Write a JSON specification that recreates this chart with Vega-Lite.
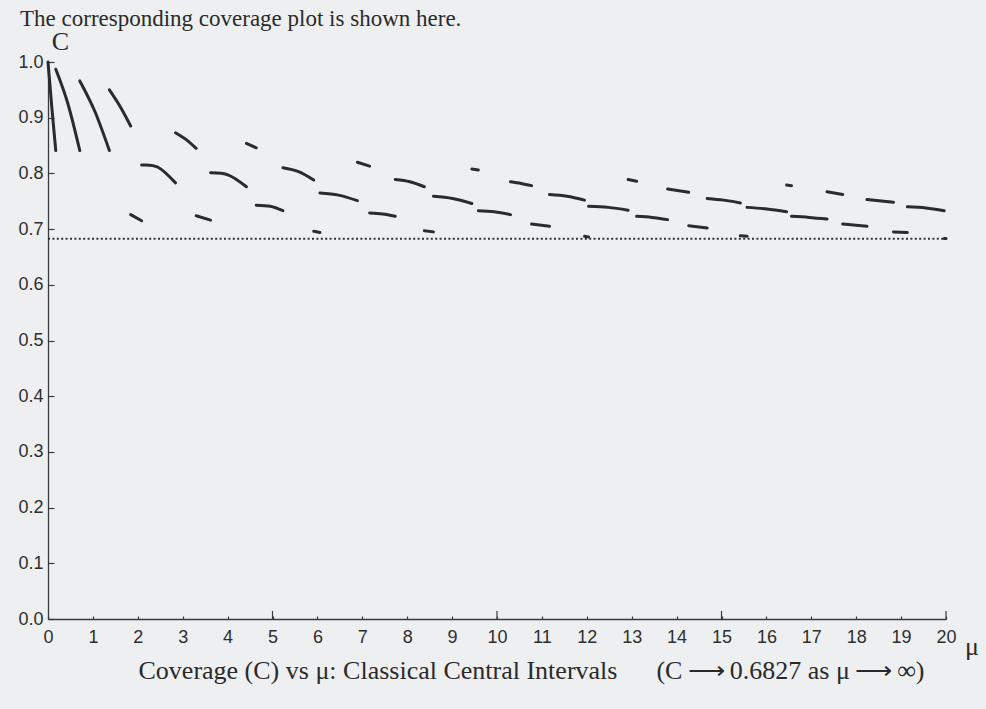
{
  "$schema": "https://vega.github.io/schema/vega-lite/v6.json",
  "width": 898,
  "height": 557,
  "autosize": {"type": "none"},
  "padding": {"left": 48, "top": 62, "right": 40, "bottom": 90},
  "background": "#eeeff0",
  "config": {"view": {"stroke": null}, "axis": {"grid": false}},
  "title": {
    "text": "The corresponding coverage plot is shown here.",
    "anchor": "start",
    "frame": "group",
    "orient": "top",
    "font": "Liberation Serif",
    "fontSize": 23,
    "fontWeight": "normal",
    "color": "#2a2a2a",
    "baseline": "alphabetic",
    "offset": 0,
    "dx": -28,
    "dy": 21
  },
  "datasets": {
    "coverage": [
      {"segment": 1, "mu": 0, "coverage": 1.0},
      {"segment": 1, "mu": 0.09, "coverage": 0.914},
      {"segment": 1, "mu": 0.173, "coverage": 0.841},
      {"segment": 2, "mu": 0.173, "coverage": 0.987},
      {"segment": 2, "mu": 0.44, "coverage": 0.926},
      {"segment": 2, "mu": 0.708, "coverage": 0.841},
      {"segment": 3, "mu": 0.708, "coverage": 0.966},
      {"segment": 3, "mu": 1.04, "coverage": 0.912},
      {"segment": 3, "mu": 1.367, "coverage": 0.841},
      {"segment": 4, "mu": 1.367, "coverage": 0.95},
      {"segment": 4, "mu": 1.6, "coverage": 0.921},
      {"segment": 4, "mu": 1.841, "coverage": 0.885},
      {"segment": 5, "mu": 1.841, "coverage": 0.726},
      {"segment": 5, "mu": 2.086, "coverage": 0.715},
      {"segment": 6, "mu": 2.086, "coverage": 0.815},
      {"segment": 6, "mu": 2.45, "coverage": 0.811},
      {"segment": 6, "mu": 2.84, "coverage": 0.783},
      {"segment": 7, "mu": 2.84, "coverage": 0.873},
      {"segment": 7, "mu": 3.07, "coverage": 0.861},
      {"segment": 7, "mu": 3.3, "coverage": 0.845},
      {"segment": 8, "mu": 3.3, "coverage": 0.724},
      {"segment": 8, "mu": 3.62, "coverage": 0.716},
      {"segment": 9, "mu": 3.62, "coverage": 0.801},
      {"segment": 9, "mu": 4.02, "coverage": 0.797},
      {"segment": 9, "mu": 4.419, "coverage": 0.776},
      {"segment": 10, "mu": 4.419, "coverage": 0.854},
      {"segment": 10, "mu": 4.638, "coverage": 0.846},
      {"segment": 11, "mu": 4.638, "coverage": 0.743},
      {"segment": 11, "mu": 4.95, "coverage": 0.741},
      {"segment": 11, "mu": 5.232, "coverage": 0.733},
      {"segment": 12, "mu": 5.232, "coverage": 0.81},
      {"segment": 12, "mu": 5.58, "coverage": 0.803},
      {"segment": 12, "mu": 5.918, "coverage": 0.788},
      {"segment": 13, "mu": 5.918, "coverage": 0.696},
      {"segment": 13, "mu": 6.057, "coverage": 0.694},
      {"segment": 14, "mu": 6.057, "coverage": 0.765},
      {"segment": 14, "mu": 6.47, "coverage": 0.761},
      {"segment": 14, "mu": 6.891, "coverage": 0.751},
      {"segment": 15, "mu": 6.891, "coverage": 0.82},
      {"segment": 15, "mu": 7.163, "coverage": 0.813},
      {"segment": 16, "mu": 7.163, "coverage": 0.729},
      {"segment": 16, "mu": 7.45, "coverage": 0.727},
      {"segment": 16, "mu": 7.734, "coverage": 0.723},
      {"segment": 17, "mu": 7.734, "coverage": 0.789},
      {"segment": 17, "mu": 8.06, "coverage": 0.785},
      {"segment": 17, "mu": 8.382, "coverage": 0.776},
      {"segment": 18, "mu": 8.382, "coverage": 0.697},
      {"segment": 18, "mu": 8.585, "coverage": 0.695},
      {"segment": 19, "mu": 8.585, "coverage": 0.759},
      {"segment": 19, "mu": 9.01, "coverage": 0.755},
      {"segment": 19, "mu": 9.441, "coverage": 0.746},
      {"segment": 20, "mu": 9.441, "coverage": 0.808},
      {"segment": 20, "mu": 9.584, "coverage": 0.806},
      {"segment": 21, "mu": 9.584, "coverage": 0.733},
      {"segment": 21, "mu": 9.94, "coverage": 0.731},
      {"segment": 21, "mu": 10.3, "coverage": 0.726},
      {"segment": 22, "mu": 10.3, "coverage": 0.785},
      {"segment": 22, "mu": 10.54, "coverage": 0.782},
      {"segment": 22, "mu": 10.77, "coverage": 0.778},
      {"segment": 23, "mu": 10.77, "coverage": 0.709},
      {"segment": 23, "mu": 11.17, "coverage": 0.705},
      {"segment": 24, "mu": 11.17, "coverage": 0.762},
      {"segment": 24, "mu": 11.56, "coverage": 0.759},
      {"segment": 24, "mu": 11.95, "coverage": 0.752},
      {"segment": 25, "mu": 11.95, "coverage": 0.687},
      {"segment": 25, "mu": 12.04, "coverage": 0.686},
      {"segment": 26, "mu": 12.04, "coverage": 0.741},
      {"segment": 26, "mu": 12.48, "coverage": 0.739},
      {"segment": 26, "mu": 12.92, "coverage": 0.734},
      {"segment": 27, "mu": 12.92, "coverage": 0.789},
      {"segment": 27, "mu": 13.11, "coverage": 0.786},
      {"segment": 28, "mu": 13.11, "coverage": 0.723},
      {"segment": 28, "mu": 13.45, "coverage": 0.721},
      {"segment": 28, "mu": 13.8, "coverage": 0.717},
      {"segment": 29, "mu": 13.8, "coverage": 0.772},
      {"segment": 29, "mu": 14.27, "coverage": 0.766},
      {"segment": 30, "mu": 14.27, "coverage": 0.706},
      {"segment": 30, "mu": 14.68, "coverage": 0.702},
      {"segment": 31, "mu": 14.68, "coverage": 0.755},
      {"segment": 31, "mu": 15.05, "coverage": 0.752},
      {"segment": 31, "mu": 15.42, "coverage": 0.747},
      {"segment": 32, "mu": 15.42, "coverage": 0.688},
      {"segment": 32, "mu": 15.57, "coverage": 0.687},
      {"segment": 33, "mu": 15.57, "coverage": 0.739},
      {"segment": 33, "mu": 16.01, "coverage": 0.736},
      {"segment": 33, "mu": 16.45, "coverage": 0.731},
      {"segment": 34, "mu": 16.45, "coverage": 0.779},
      {"segment": 34, "mu": 16.56, "coverage": 0.778},
      {"segment": 35, "mu": 16.56, "coverage": 0.723},
      {"segment": 35, "mu": 16.95, "coverage": 0.721},
      {"segment": 35, "mu": 17.35, "coverage": 0.718},
      {"segment": 36, "mu": 17.35, "coverage": 0.767},
      {"segment": 36, "mu": 17.7, "coverage": 0.762},
      {"segment": 37, "mu": 17.7, "coverage": 0.709},
      {"segment": 37, "mu": 18.24, "coverage": 0.705},
      {"segment": 38, "mu": 18.24, "coverage": 0.753},
      {"segment": 38, "mu": 18.83, "coverage": 0.748},
      {"segment": 39, "mu": 18.83, "coverage": 0.695},
      {"segment": 39, "mu": 19.14, "coverage": 0.694},
      {"segment": 40, "mu": 19.14, "coverage": 0.74},
      {"segment": 40, "mu": 19.55, "coverage": 0.738},
      {"segment": 40, "mu": 19.96, "coverage": 0.733},
      {"segment": 41, "mu": 19.96, "coverage": 0.683},
      {"segment": 41, "mu": 20.0, "coverage": 0.683}
    ]
  },
  "layer": [
    {
      "data": {"name": "coverage"},
      "mark": {
        "type": "line",
        "interpolate": "natural",
        "strokeWidth": 3,
        "strokeCap": "round",
        "color": "#2b2b2b"
      },
      "encoding": {
        "x": {
          "field": "mu",
          "type": "quantitative",
          "scale": {"domain": [0, 20], "nice": false, "zero": false},
          "axis": {
            "values": [0, 1, 2, 3, 4, 5, 6, 7, 8, 9, 10, 11, 12, 13, 14, 15, 16, 17, 18, 19, 20],
            "tickSize": -3,
            "tickWidth": 1.2,
            "tickColor": "#3a3a3a",
            "domainColor": "#3a3a3a",
            "domainWidth": 1.3,
            "labelPadding": 12,
            "labelFont": "Liberation Sans",
            "labelFontSize": 18,
            "labelColor": "#2e2e2e",
            "labelFlush": false,
            "labelOverlap": false,
            "title": "Coverage (C) vs μ: Classical Central Intervals\u2003\u2002(C\u2009⟶\u20090.6827 as μ\u2009⟶\u2009∞)",
            "titleFont": "Liberation Serif",
            "titleFontSize": 26,
            "titleFontWeight": "normal",
            "titleColor": "#2a2a2a",
            "titleAlign": "left",
            "titleBaseline": "alphabetic",
            "titleX": 90,
            "titleY": 59
          }
        },
        "y": {
          "field": "coverage",
          "type": "quantitative",
          "scale": {"domain": [0, 1], "nice": false},
          "axis": {
            "values": [0, 0.1, 0.2, 0.3, 0.4, 0.5, 0.6, 0.7, 0.8, 0.9, 1.0],
            "format": ".1f",
            "tickSize": -6,
            "tickWidth": 1.2,
            "tickColor": "#3a3a3a",
            "domainColor": "#3a3a3a",
            "domainWidth": 1.3,
            "labelPadding": 11,
            "labelFont": "Liberation Sans",
            "labelFontSize": 18,
            "labelColor": "#2e2e2e",
            "labelFlush": false,
            "title": "C",
            "titleAngle": 0,
            "titleFont": "Liberation Serif",
            "titleFontSize": 26,
            "titleFontWeight": "normal",
            "titleColor": "#2a2a2a",
            "titleAlign": "center",
            "titleBaseline": "alphabetic",
            "titleX": 12,
            "titleY": -13
          }
        },
        "detail": {"field": "segment", "type": "nominal"}
      }
    },
    {
      "data": {"values": [{"mu": 5}, {"mu": 10}, {"mu": 15}, {"mu": 20}]},
      "mark": {"type": "rule", "strokeWidth": 1.2, "color": "#3a3a3a"},
      "encoding": {
        "x": {"field": "mu", "type": "quantitative"},
        "y": {"datum": 0},
        "y2": {"datum": 0.0145}
      }
    },
    {
      "data": {"values": [{}]},
      "mark": {
        "type": "rule",
        "strokeDash": [2, 2.4],
        "strokeWidth": 2,
        "color": "#333333"
      },
      "encoding": {
        "x": {"datum": 0},
        "x2": {"datum": 20},
        "y": {"datum": 0.6827}
      }
    },
    {
      "data": {"values": [{}]},
      "mark": {
        "type": "text",
        "font": "Liberation Serif",
        "fontSize": 26,
        "color": "#2a2a2a",
        "align": "center",
        "baseline": "alphabetic",
        "dx": 26,
        "dy": 36
      },
      "encoding": {
        "x": {"datum": 20},
        "y": {"datum": 0},
        "text": {"value": "μ"}
      }
    }
  ]
}
